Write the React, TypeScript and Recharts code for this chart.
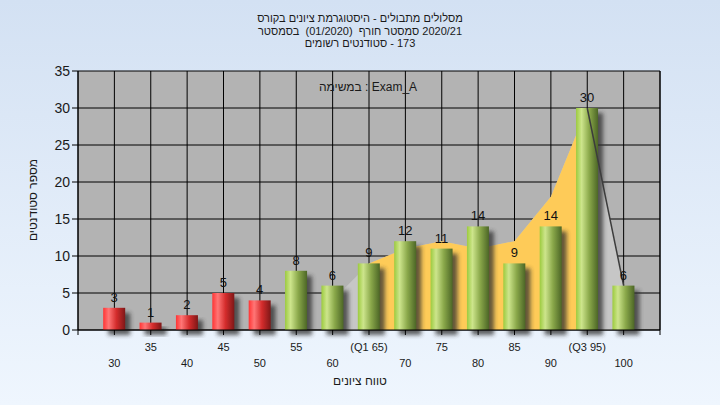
import { Area, Bar, CartesianGrid, ComposedChart, LabelList, Line, XAxis, YAxis } from 'recharts';

const scores = [30, 35, 40, 45, 50, 55, 60, 65, 70, 75, 80, 85, 90, 95, 100];
const counts = [3, 1, 2, 5, 4, 8, 6, 9, 12, 11, 14, 9, 14, 30, 6];
const spreadArea = [null, null, null, null, null, null, 4, 9, 11, 12, 11, 12, 18, 30, 6];
const quartileArea = [null, null, null, null, null, null, null, 9, 11, 12, 11, 12, 18, 30, null];
const tailLine = [null, null, null, null, null, null, null, null, null, null, null, null, null, 30, 6];
const tickLabels = ['30', '35', '40', '45', '50', '55', '60', '(Q1 65)', '70', '75', '80', '85', '90', '(Q3 95)', '100'];
const xTicks = [25, ...scores, 105];
const yTicks = [0, 5, 10, 15, 20, 25, 30, 35];

// each title line is kept as pieces, placed left to right like the original
const titleLines = [
  ['היסטוגרמת ציונים בקורס', ' - ', 'מסלולים מתבולים'],
  ['בסמסטר', '  (01/2020)  ', 'סמסטר חורף', ' 2020/21'],
  ['סטודנטים רשומים', ' - 173'],
];

const data = scores.map((score, i) => ({
  score,
  count: counts[i],
  spread: spreadArea[i],
  quartile: quartileArea[i],
  tail: tailLine[i],
}));

const FONT = '"Liberation Sans", Arial, sans-serif';

const CylinderBar = (props: any) => {
  const { x, y, width, height, payload } = props;
  if (!height) return null;
  const fill = payload.score < 55 ? 'url(#redGrad)' : 'url(#greenGrad)';
  return (
    <g>
      <rect x={x + 5} y={y + 5} width={width} height={height} fill="#2e2e2e" opacity={0.75} filter="url(#barShadow)" />
      <rect x={x} y={y} width={width} height={height} fill={fill} />
    </g>
  );
};

const ScoreTick = (props: any) => {
  const { x, y, payload } = props;
  const idx = scores.indexOf(payload.value);
  if (idx < 0) return null;
  const dy = idx % 2 === 1 ? 14 : 30;
  return (
    <text x={x} y={y + dy} textAnchor="middle" fontSize={11} fontFamily={FONT} fill="#1a1a1a">
      {tickLabels[idx]}
    </text>
  );
};

export default function App() {
  return (
    <div
      style={{
        position: 'fixed',
        left: 0,
        top: 0,
        width: 720,
        height: 405,
        background: 'linear-gradient(#d3e1f3, #eff6fe)',
      }}
    >
      <svg width={0} height={0} style={{ position: 'absolute' }}>
        <defs>
          <linearGradient id="redGrad" x1="0" y1="0" x2="1" y2="0">
            <stop offset="0%" stopColor="#ff3434" />
            <stop offset="25%" stopColor="#ff7676" />
            <stop offset="60%" stopColor="#d42c2c" />
            <stop offset="100%" stopColor="#7e1717" />
          </linearGradient>
          <linearGradient id="greenGrad" x1="0" y1="0" x2="1" y2="0">
            <stop offset="0%" stopColor="#9ccb3e" />
            <stop offset="25%" stopColor="#cde58c" />
            <stop offset="60%" stopColor="#8aa84a" />
            <stop offset="100%" stopColor="#4c6626" />
          </linearGradient>
          <filter id="barShadow" x="-50%" y="-20%" width="200%" height="140%">
            <feGaussianBlur stdDeviation="2" />
          </filter>
        </defs>
      </svg>
      <ComposedChart width={720} height={405} data={data} margin={{ top: 71, right: 0, left: 0, bottom: 0 }}>
        <CartesianGrid yAxisId="left" stroke="#000" fill="#b3b3b3" fillOpacity={1} />
        <XAxis
          dataKey="score"
          type="number"
          domain={[25, 105]}
          ticks={xTicks}
          interval={0}
          height={75}
          tick={<ScoreTick />}
          tickSize={5}
          axisLine={{ stroke: '#000' }}
          tickLine={{ stroke: '#000' }}
        />
        <YAxis
          yAxisId="left"
          domain={[0, 35]}
          ticks={yTicks}
          width={78}
          tickSize={6}
          tickMargin={2}
          axisLine={{ stroke: '#000' }}
          tickLine={{ stroke: '#000' }}
          tick={{ fontSize: 14, fill: '#1a1a1a', fontFamily: FONT }}
        />
        <YAxis
          yAxisId="right"
          orientation="right"
          domain={[0, 35]}
          ticks={yTicks}
          width={60}
          tickSize={6}
          tickMargin={2}
          axisLine={{ stroke: '#000' }}
          tickLine={{ stroke: '#000' }}
          tick={{ fontSize: 14, fill: '#1a1a1a', fontFamily: FONT }}
        />
        <Area
          yAxisId="left"
          type="linear"
          dataKey="spread"
          stroke="none"
          fill="#c6c6c6"
          fillOpacity={1}
          isAnimationActive={false}
        />
        <Area
          yAxisId="left"
          type="linear"
          dataKey="quartile"
          stroke="none"
          fill="#fecb58"
          fillOpacity={1}
          isAnimationActive={false}
        />
        <Line
          yAxisId="left"
          type="linear"
          dataKey="tail"
          stroke="#3c3c3c"
          strokeWidth={1.5}
          dot={false}
          isAnimationActive={false}
        />
        <Bar yAxisId="left" dataKey="count" barSize={22} shape={<CylinderBar />} isAnimationActive={false}>
          <LabelList dataKey="count" position="top" offset={6} fontSize={13} fill="#111" fontFamily={FONT} />
        </Bar>
      </ComposedChart>
      <div
        style={{
          position: 'absolute',
          left: 0,
          top: 12,
          width: 720,
          fontFamily: FONT,
          fontSize: 11,
          lineHeight: '12.5px',
          color: '#1a1a1a',
        }}
      >
        {titleLines.map((pieces, i) => (
          <div key={i} style={{ display: 'flex', flexDirection: 'row', justifyContent: 'center', direction: 'ltr' }}>
            {pieces.map((p, j) => (
              <span key={j} style={{ whiteSpace: 'pre' }}>
                {p}
              </span>
            ))}
          </div>
        ))}
      </div>
      <svg width={720} height={405} style={{ position: 'absolute', left: 0, top: 0, pointerEvents: 'none' }}>
        <text x={368} y={91} textAnchor="middle" fontSize={12} fontFamily={FONT} fill="#1a1a1a">
          במשימה : Exam_A
        </text>
        <text x={360} y={385} textAnchor="middle" fontSize={12} fontFamily={FONT} fill="#1a1a1a">
          טווח ציונים
        </text>
        <text
          x={37}
          y={200}
          textAnchor="middle"
          fontSize={12}
          fontFamily={FONT}
          fill="#1a1a1a"
          transform="rotate(-90 37 200)"
        >
          מספר סטודנטים
        </text>
      </svg>
    </div>
  );
}
